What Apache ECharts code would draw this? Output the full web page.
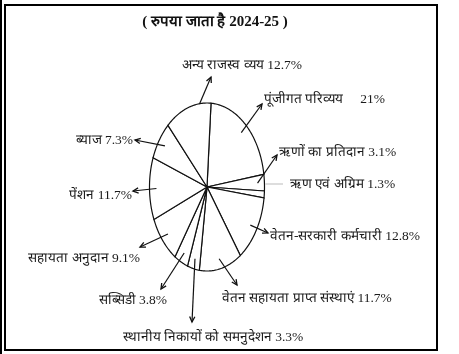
<!DOCTYPE html>
<html>
<head>
<meta charset="utf-8">
<script src="https://cdn.jsdelivr.net/npm/echarts@6/dist/echarts.min.js"></script>
<style>
  html, body { margin: 0; padding: 0; background: #fff; }
  #chart { width: 459px; height: 354px; }
</style>
</head>
<body>
<div id="chart"></div>
<script>
// slices, clockwise from the top
var categories = ['पूंजीगत परिव्यय', 'ऋणों का प्रतिदान', 'ऋण एवं अग्रिम', 'वेतन-सरकारी कर्मचारी',
  'वेतन सहायता प्राप्त संस्थाएं', 'स्थानीय निकायों को समनुदेशन', 'सब्सिडी', 'सहायता अनुदान',
  'पेंशन', 'ब्याज', 'अन्य राजस्व व्यय'];
var shares = [21, 3.1, 1.3, 12.8, 11.7, 3.3, 3.8, 9.1, 11.7, 7.3, 12.7];
var titleText = '( रुपया जाता है 2024-25 )';

// where each label sits (tip of its arrow, text anchor, alignment)
var labelLayout = [
  { tip: [262, 104], text: [264, 99], align: 'left', gap: '    ' },
  { tip: [277, 155], text: [279, 152], align: 'left' },
  { tip: [283, 184], text: [290, 184], align: 'left', kind: 'line' },
  { tip: [268, 233], text: [270, 236], align: 'left' },
  { tip: [237, 285], text: [222, 298], align: 'left' },
  { tip: [192, 322], text: [213, 337], align: 'center' },
  { tip: [161, 289], text: [167, 300], align: 'right' },
  { tip: [140, 247], text: [140, 258], align: 'right' },
  { tip: [133, 191], text: [132, 195], align: 'right' },
  { tip: [135, 140], text: [133, 140], align: 'right' },
  { tip: [211, 77], text: [242, 65], align: 'center', r: 1.0, shift: 12 }
];

var cx = 207, cy = 187, rx = 57.5, ry = 84;
var startDeg = 4;
var fontFam = '"Liberation Serif", "Times New Roman", serif';

var total = shares.reduce(function (s, v) { return s + v; }, 0);
var before = [];
shares.reduce(function (s, v) { before.push(s); return s + v; }, 0);

function onEllipse(deg, r) {
  var t = deg * Math.PI / 180;
  return [cx + Math.sin(t) * rx * r, cy - Math.cos(t) * ry * r];
}

function renderItem(params, api) {
  var i = params.dataIndex;
  var v = api.value(0);
  var a0 = startDeg + before[i] / total * 360;
  var a1 = a0 + v / total * 360;
  var pts = [[cx, cy]];
  var steps = Math.max(4, Math.ceil(a1 - a0));
  for (var s = 0; s <= steps; s++) {
    pts.push(onEllipse(a0 + (a1 - a0) * s / steps, 1));
  }
  var lay = labelLayout[i];
  var children = [{
    type: 'polygon',
    shape: { points: pts },
    style: { fill: '#fff', stroke: '#111', lineWidth: 1.2 }
  }];
  var tip = lay.tip;
  if (lay.kind === 'line') {
    var dy = (tip[1] - cy) / ry;
    var ex = cx + rx * Math.sqrt(Math.max(0, 1 - dy * dy));
    children.push({
      type: 'line',
      shape: { x1: ex + 1, y1: tip[1], x2: tip[0], y2: tip[1] },
      style: { stroke: '#bbb', lineWidth: 1 }
    });
  } else {
    var from = onEllipse((a0 + a1) / 2 + (lay.shift || 0), lay.r || 0.88);
    var ang = Math.atan2(tip[1] - from[1], tip[0] - from[0]);
    var h = 6, w = 0.45;
    children.push({
      type: 'line',
      shape: { x1: from[0], y1: from[1], x2: tip[0], y2: tip[1] },
      style: { stroke: '#111', lineWidth: 1.2 }
    });
    children.push({
      type: 'polyline',
      shape: { points: [
        [tip[0] - h * Math.cos(ang - w), tip[1] - h * Math.sin(ang - w)],
        tip,
        [tip[0] - h * Math.cos(ang + w), tip[1] - h * Math.sin(ang + w)]
      ] },
      style: { stroke: '#111', lineWidth: 1.3, fill: null }
    });
  }
  children.push({
    type: 'text',
    x: lay.text[0],
    y: lay.text[1],
    style: {
      text: categories[i] + ' ' + (lay.gap || '') + v + '%',
      fill: '#1a1a1a',
      font: '13.5px ' + fontFam,
      align: lay.align,
      verticalAlign: 'middle'
    }
  });
  return { type: 'group', children: children };
}

var chart = echarts.init(document.getElementById('chart'));
var option = {
  animation: false,
  backgroundColor: '#fff',
  graphic: [
    { type: 'rect', shape: { x: 5, y: 5, width: 432, height: 345 },
      style: { fill: null, stroke: '#000', lineWidth: 2 } },
    { type: 'line', shape: { x1: 1, y1: 0, x2: 1, y2: 354 },
      style: { stroke: '#000', lineWidth: 2 } },
    { type: 'text', x: 215, y: 22,
      style: { text: titleText, font: 'bold 15px ' + fontFam, fill: '#111',
        align: 'center', verticalAlign: 'middle' } }
  ],
  series: [{
    type: 'custom',
    coordinateSystem: 'none',
    silent: true,
    renderItem: renderItem,
    data: shares.map(function (v, i) { return [v, i]; })
  }]
};
chart.setOption(option);
</script>
</body>
</html>
